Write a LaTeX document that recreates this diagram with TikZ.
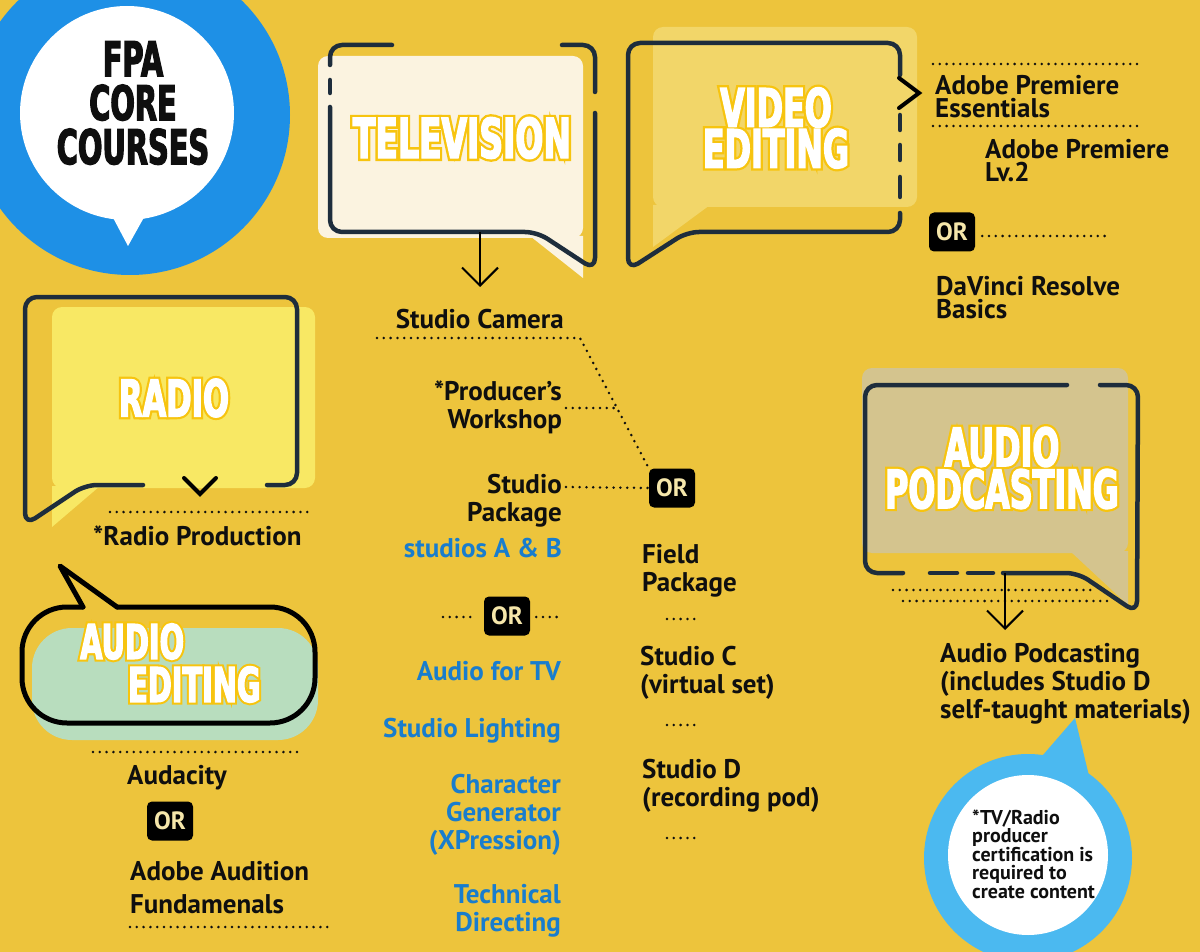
\documentclass[tikz,border=0pt]{standalone}
\usepackage{fontspec}
\setmainfont{PT Sans}
\newfontfamily\headfont{DejaVu Sans}[FakeStretch=0.6, FakeBold=2.5]
\newfontfamily\goldfont{DejaVu Sans}[FakeStretch=0.6, FakeBold=11]
\usetikzlibrary{arrows.meta}
\definecolor{bg}{RGB}{237,196,60}
\definecolor{navy}{RGB}{30,45,60}
\definecolor{ink}{RGB}{15,15,15}
\definecolor{fpablue}{RGB}{30,144,230}
\definecolor{lblue}{RGB}{75,185,240}
\definecolor{txtblue}{RGB}{25,125,205}
\definecolor{gold}{RGB}{247,196,15}
\definecolor{cream}{RGB}{251,243,224}
\definecolor{vfill}{RGB}{242,214,105}
\definecolor{rfill}{RGB}{248,232,100}
\definecolor{tanfill}{RGB}{212,196,142}
\definecolor{mint}{RGB}{184,221,190}
\definecolor{orcream}{RGB}{245,230,170}
% heading: gold emboldened layer under a white layer
\newcommand\outlined[6]{% name, position, size, skip, extra options, text
  \node[headsty,#5,text=gold,font=\goldfont\bfseries\fontsize{#3}{#4}\selectfont] at (#2) {#6};
  \node[headsty,#5,text=white,font=\headfont\bfseries\fontsize{#3}{#4}\selectfont] (#1) at (#2) {#6};}
\tikzset{
  body/.style={font=\bfseries\fontsize{27}{28}\selectfont, inner sep=0pt, text=ink},
  bluetxt/.style={body, text=txtblue},
  headsty/.style={inner sep=0pt, align=center},
  orbox/.style={fill=black, rounded corners=5pt, text=orcream, font=\bfseries\fontsize{25}{25}\selectfont, minimum width=46pt, minimum height=39pt, inner sep=0pt},
  dots/.style={draw=ink, line width=2.8pt, line cap=round, dash pattern=on 0pt off 6.8pt},
  outline/.style={draw=navy, line width=4.5pt, line cap=round, line join=round},
  chev/.style={draw=black, line width=4pt, line cap=round},
  downarrow/.style={draw=black, line width=2pt, -{Straight Barb[length=18pt,width=36pt,line width=2pt]}},
}
\begin{document}
\begin{tikzpicture}[x=1pt,y=-1pt]
\useasboundingbox (0,0) rectangle (1200,952);
\clip (0,0) rectangle (1200,952);
\fill[bg] (0,0) rectangle (1200,952);

% ---------- FPA core courses ----------
\fill[fpablue] (130,115) circle[radius=160];
\fill[white] (127,113) circle[radius=107];
\fill[white] (110,212) -- (147,212) -- (128,246) -- cycle;
\node[font=\headfont\bfseries\fontsize{48}{44}\selectfont, align=center, text=ink, inner sep=0pt] (fpa) at (133,103) {FPA\\CORE\\COURSES};

% ---------- Television ----------
\fill[cream, rounded corners=10pt] (318,56) rectangle (583,238);
\fill[cream] (530,236) -- (583,236) -- (583,278) -- cycle;
\draw[outline, rounded corners=12pt] (392,45) -- (330,45) -- (330,65);
\draw[outline] (330,80) -- (330,93);
\draw[outline, rounded corners=12pt] (330,107) -- (330,232) -- (537,232) -- (595,270) -- (595,113);
\draw[outline, rounded corners=12pt] (562,45) -- (595,45) -- (595,92);
\outlined{tv}{462,138}{55}{41}{}{TELEVISION}
\coordinate (tvtail) at (480,232);
\coordinate (tvend) at (480,287);
\draw[downarrow] (tvtail) -- (tvend);

% ---------- Video editing ----------
\fill[vfill, rounded corners=10pt] (653,27) rectangle (917,207);
\fill[vfill] (653,205) -- (710,205) -- (653,247) -- cycle;
\draw[outline, rounded corners=12pt] (900,75) -- (900,43) -- (628,43) -- (628,270) -- (687,232) -- (900,232) -- (900,213);
\draw[outline] (900,115) -- (900,130);
\draw[outline] (900,145) -- (900,160);
\draw[outline] (900,177) -- (900,197);
\draw[chev] (899,78) -- (919,93) -- (899,108);
\outlined{video}{776,128}{53}{41}{}{VIDEO\\EDITING}

\coordinate (v1a) at (933,64);  \coordinate (v1b) at (1137,64);
\coordinate (v2a) at (933,126); \coordinate (v2b) at (1137,126);
\draw[dots] (v1a) -- (v1b);
\draw[dots] (v2a) -- (v2b);
\node[body, font=\bfseries\fontsize{27}{23}\selectfont, align=left, anchor=base west] (apess) at (935,118) {Adobe Premiere\\Essentials};
\node[body, font=\bfseries\fontsize{27}{23}\selectfont, align=left, anchor=base west] (aplv) at (985,182) {Adobe Premiere\\Lv.2};
\node[orbox] (or3) at (952,232) {OR};
\coordinate (v3b) at (1107,236);
\draw[dots] ([xshift=7pt]or3.east |- v3b) -- (v3b);
\node[body, font=\bfseries\fontsize{27}{23}\selectfont, align=left, anchor=base west] (davinci) at (936,318) {DaVinci Resolve\\Basics};

% ---------- Radio ----------
\fill[rfill, rounded corners=10pt] (52,307) rectangle (315,488);
\fill[rfill] (52,486) -- (100,486) -- (52,527) -- cycle;
\draw[outline, rounded corners=12pt] (267,485) -- (297,485) -- (297,297) -- (25,297) -- (25,525) -- (85,485) -- (143,485);
\draw[chev] (184,478) -- (200,494) -- (216,478);
\outlined{radio}{174,398}{51}{41}{}{RADIO}
\coordinate (r1a) at (110,512); \coordinate (r1b) at (312,512);
\draw[dots] (r1a) -- (r1b);
\node[body, anchor=base west] (radioprod) at (93,545) {*Radio Production};

% ---------- Audio editing ----------
\fill[mint, rounded corners=40pt] (32,628) rectangle (318,740);
\draw[draw=black, line width=5pt, line cap=round, rounded corners=45pt] (117,607) -- (315,607) -- (315,723) -- (22,723) -- (22,607) -- (83,607);
\draw[draw=black, line width=5pt, line cap=round, line join=round] (83,607) -- (60,566) -- (117,607);
\outlined{audioed}{80,663}{48}{43}{anchor=west, align=left}{AUDIO\\\hspace*{48pt}EDITING}
\coordinate (e1a) at (93,752); \coordinate (e1b) at (297,752);
\draw[dots] (e1a) -- (e1b);
\node[body, anchor=base west] (audacity) at (127,784) {Audacity};
\node[orbox] (or4) at (170,821) {OR};
\node[body, font=\bfseries\fontsize{27}{33}\selectfont, align=left, anchor=base west] (audition) at (130,913) {Adobe Audition\\Fundamenals};
\coordinate (e2a) at (130,927); \coordinate (e2b) at (333,927);
\draw[dots] (e2a) -- (e2b);

% ---------- Television courses ----------
\node[body, anchor=base east] (camera) at (564,328) {Studio Camera};
\coordinate (camL) at (377,338); \coordinate (camK) at (580,338);
\node[body, align=right, anchor=base east] (prod) at (562,428) {*Producer’s\\Workshop};
\node[body, align=right, anchor=base east] (studio) at (562,521) {Studio\\Package};
\node[orbox] (or1) at (672,488) {OR};
\coordinate (prodK) at (617,408);
\coordinate (prodL) at (566,408);
\coordinate (studL) at (566,487);
\draw[dots] (camL) -- (camK) -- (or1.north west);
\draw[dots] (prodL) -- (prodK);
\draw[dots] (studL) -- (or1.west);
\node[bluetxt, anchor=base east] (studiosab) at (562,557) {studios A \& B};
\node[body, align=left, anchor=base west] (field) at (642,591) {Field\\Package};
\node[orbox] (or2) at (507,616) {OR};
\coordinate (o2a) at (443,617); \coordinate (o2b) at (560,617);
\draw[dots] (o2a) -- ([xshift=-7pt]or2.west |- o2a);
\draw[dots] ([xshift=6pt]or2.east |- o2b) -- (o2b);
\node[bluetxt, anchor=base east] (audiotv) at (561,680) {Audio for TV};
\node[bluetxt, anchor=base east] (lighting) at (561,737) {Studio Lighting};
\node[bluetxt, align=right, anchor=base east] (chargen) at (561,849) {Character\\Generator\\(XPression)};
\node[bluetxt, align=right, anchor=base east] (techdir) at (561,931) {Technical\\Directing};
\draw[dots] (667,619) -- (698,619);
\node[body, align=left, anchor=base west] (studioc) at (640,693) {Studio C\\(virtual set)};
\draw[dots] (667,725) -- (698,725);
\node[body, align=left, anchor=base west] (studiod) at (642,806) {Studio D\\(recording pod)};
\draw[dots] (667,838) -- (698,838);

% ---------- Audio podcasting ----------
\fill[tanfill, rounded corners=10pt] (862,368) rectangle (1128,553);
\fill[tanfill] (1070,551) -- (1128,551) -- (1128,605) -- cycle;
\draw[outline, rounded corners=12pt] (1067,385) -- (865,385) -- (865,573) -- (903,573);
\draw[outline] (930,573) -- (957,573);
\draw[outline] (968,573) -- (993,573);
\draw[outline, rounded corners=12pt] (1003,573) -- (1078,573) -- (1137,613) -- (1138,385) -- (1100,385);
\outlined{podcast}{1002,468}{53}{42}{}{AUDIO\\PODCASTING}
\coordinate (p1a) at (893,590); \coordinate (p1b) at (1095,590);
\coordinate (p2a) at (903,601); \coordinate (p2b) at (1108,601);
\draw[dots] (p1a) -- (p1b);
\draw[dots] (p2a) -- (p2b);
\coordinate (pdtail) at (1005,573);
\coordinate (pdend) at (1005,630);
\draw[downarrow] (pdtail) -- (pdend);
\node[body, align=left, anchor=base west] (podtext) at (940,718) {Audio Podcasting\\(includes Studio D\\self-taught materials)};

% ---------- note bubble ----------
\fill[lblue] (1028,858) circle[radius=104];
\fill[lblue] (1030,770) -- (1075,718) -- (1090,780) -- cycle;
\fill[white] (1028,855) circle[radius=80];
\node[body, font=\bfseries\fontsize{20}{18.5}\selectfont, align=left, anchor=base west] (note) at (972,898) {*TV/Radio\\producer\\certification is\\required to\\create content};
\end{tikzpicture}
\end{document}
